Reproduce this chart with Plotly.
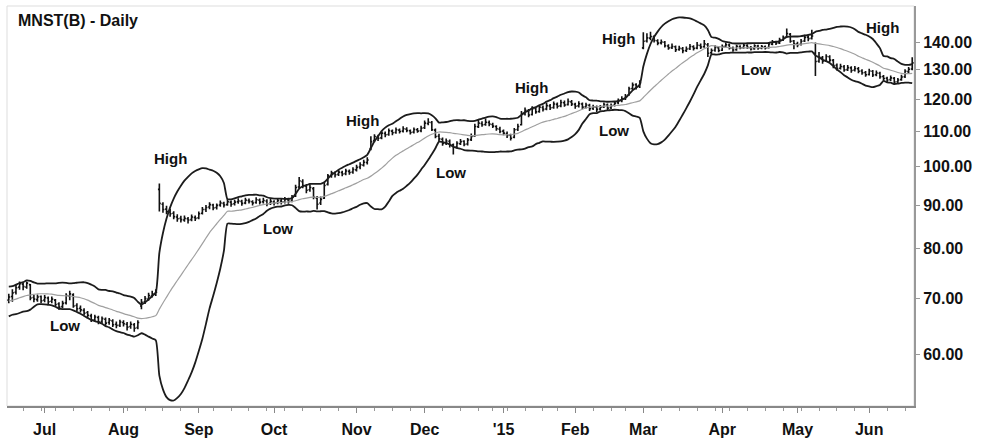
import numpy as np
import pandas as pd
import plotly.graph_objects as go

# ---------------- data ----------------
start_date = "2014-06-17"
end_date = "2015-06-17"
holidays = ["2014-07-04", "2014-09-01", "2014-11-27", "2014-12-25", "2015-01-01",
            "2015-01-19", "2015-02-16", "2015-04-03", "2015-05-25"]

month_labels = ["Jul", "Aug", "Sep", "Oct", "Nov", "Dec", "'15", "Feb", "Mar", "Apr", "May", "Jun"]

# closes before the first drawn bar (only used to seed the 20-day bands)
pre_close = [66.6, 67.2, 68.0, 67.4, 67.9, 68.8, 68.1, 67.3, 68.0, 69.4,
             70.3, 69.9, 70.7, 71.4, 70.6, 69.8, 71.0, 71.6, 70.4, 70.2]

open_ = [
    # Jun '14
    69.6, 70.3, 71.1, 72.1, 72.7, 72.1, 72.6, 70.1, 69.7, 70.3,
    # Jul
    69.6, 70.0, 69.4, 69.6, 68.9, 68.4, 69.1, 70.4, 70.6, 68.6, 68.1, 67.7, 67.3, 66.7, 66.0, 66.4, 65.7, 66.1, 65.5, 65.8, 65.2, 65.0,
    # Aug
    65.5, 65.2, 64.8, 65.1, 64.6, 68.5, 69.3, 69.8, 70.4, 70.9, 94.0, 90.3, 89.1, 88.4, 88.1, 87.2, 86.9, 86.5, 86.8, 86.6, 87.1,
    # Sep
    87.0, 88.1, 89.0, 89.6, 90.1, 89.5, 90.1, 90.5, 90.2, 90.8, 90.4, 90.9, 91.0, 90.6, 91.2, 90.9, 90.7, 91.3, 90.9, 91.1, 90.5,
    # Oct
    90.9, 90.7, 91.1, 90.9, 91.4, 91.1, 92.3, 94.6, 96.0, 94.9, 93.9, 94.2, 91.8, 90.6, 91.8, 95.3, 97.6, 98.2, 97.9, 98.4, 98.1, 98.7, 98.5,
    # Nov
    99.1, 99.9, 100.4, 101.1, 105.0, 107.3, 108.4, 108.1, 109.4, 109.1, 110.1, 109.7, 110.4, 110.1, 110.7, 110.2, 109.8, 110.5, 110.2,
    # Dec
    111.1, 112.4, 112.7, 110.4, 108.6, 107.7, 106.6, 107.1, 106.1, 105.5, 106.4, 107.1, 106.3, 107.6, 108.7, 111.4, 112.4, 112.1, 112.7, 112.1, 111.5, 110.7,
    # Jan '15
    110.1, 109.4, 108.9, 108.3, 110.6, 112.0, 115.4, 116.4, 115.2, 117.1, 116.1, 117.4, 116.9, 117.9, 117.4, 118.4, 117.9, 118.9, 118.3, 119.2,
    # Feb
    118.4, 117.9, 118.5, 117.6, 118.1, 117.1, 117.5, 116.9, 117.6, 118.2, 117.3, 118.1, 118.9, 119.6, 120.3, 121.5, 123.6, 124.9, 124.3,
    # Mar
    138.0, 140.6, 141.7, 142.2, 140.7, 139.9, 140.1, 138.7, 138.1, 138.4, 137.4, 137.7, 137.0, 137.7, 138.4, 137.9, 138.9, 138.4, 139.2, 136.2, 137.1, 138.1,
    # Apr
    137.1, 138.6, 139.1, 137.9, 137.3, 138.5, 138.1, 138.9, 138.1, 137.7, 138.7, 138.0, 138.4, 138.1, 139.4, 140.1, 139.9, 141.1, 142.1, 143.2, 140.6,
    # May
    139.4, 139.3, 140.6, 142.1, 141.6, 136.0, 133.1, 134.4, 133.3, 134.7, 133.4, 131.6, 130.6, 131.1, 130.1, 130.7, 129.9, 130.4, 129.6, 129.1,
    # Jun
    128.4, 129.5, 128.3, 128.8, 127.7, 127.1, 126.6, 127.1, 125.9, 126.6, 127.6, 129.4, 130.3,
]

high = [
    70.8, 71.7, 72.6, 73.2, 73.0, 73.2, 72.7, 70.6, 70.7, 70.5,
    70.6, 70.3, 70.3, 69.8, 69.2, 69.5, 70.9, 71.4, 70.9, 69.0, 68.6, 68.1, 67.6, 67.1, 66.9, 66.7, 66.6, 66.4, 66.3, 66.1, 65.7, 66.0,
    65.9, 65.6, 65.7, 65.4, 65.9, 69.8, 70.4, 71.0, 71.4, 71.7, 95.5, 90.8, 89.9, 89.2, 88.6, 87.9, 87.5, 87.6, 87.2, 87.8, 87.6,
    88.5, 89.6, 90.1, 90.8, 90.4, 90.5, 91.2, 90.9, 91.5, 91.2, 91.4, 91.8, 91.4, 91.9, 91.7, 91.3, 92.0, 91.7, 91.9, 91.5, 91.6,
    91.3, 91.8, 91.6, 92.1, 91.9, 92.6, 95.2, 97.2, 96.6, 95.4, 95.3, 94.6, 92.3, 92.2, 95.8, 98.0, 98.9, 98.7, 99.1, 98.9, 99.4, 99.2, 99.8,
    100.5, 101.2, 101.9, 102.6, 108.6, 109.2, 109.0, 110.2, 110.0, 110.9, 110.6, 111.2, 110.9, 111.6, 111.3, 110.6, 111.2, 111.0, 111.7,
    113.3, 114.0, 113.2, 110.9, 109.3, 108.2, 107.9, 107.6, 106.5, 107.1, 107.8, 107.4, 108.1, 109.4, 112.3, 113.6, 113.1, 113.9, 113.3, 112.6, 111.9, 111.4,
    110.6, 110.0, 109.3, 111.0, 112.3, 116.3, 117.4, 116.9, 117.8, 117.5, 118.3, 118.0, 118.9, 118.5, 119.3, 119.0, 119.9, 119.6, 120.3, 119.8,
    118.9, 119.4, 119.0, 118.9, 118.6, 118.3, 118.0, 118.2, 119.0, 118.7, 118.7, 119.5, 120.3, 121.0, 121.8, 124.2, 125.6, 125.4, 126.4,
    144.0, 143.6, 144.2, 142.8, 141.3, 141.2, 140.6, 139.4, 139.6, 138.9, 138.8, 138.3, 138.5, 139.5, 139.0, 140.2, 139.6, 141.0, 139.8, 137.8, 139.0, 138.6,
    139.3, 140.0, 139.6, 138.5, 139.2, 139.0, 139.8, 139.4, 138.7, 139.4, 139.2, 139.1, 138.9, 140.2, 141.0, 140.7, 141.8, 142.7, 145.4, 143.7, 141.0,
    140.3, 141.4, 143.0, 142.8, 145.0, 140.0, 136.5, 135.0, 135.6, 135.3, 133.9, 132.3, 132.2, 131.7, 131.7, 131.3, 131.4, 131.0, 130.2, 129.6,
    130.4, 130.0, 129.8, 129.3, 128.2, 127.6, 128.0, 127.5, 127.2, 128.3, 130.2, 131.0, 134.5,
]

low = [
    69.0, 69.3, 70.7, 71.6, 71.5, 71.8, 69.6, 69.2, 69.3, 69.0,
    69.2, 68.9, 69.0, 68.4, 67.8, 68.1, 68.8, 69.6, 68.2, 67.5, 67.3, 66.8, 66.3, 65.6, 65.7, 65.2, 65.3, 65.0, 65.1, 64.7, 64.5, 64.7,
    64.8, 64.1, 64.4, 63.9, 64.3, 67.9, 68.9, 69.5, 70.1, 70.4, 88.5, 88.2, 87.9, 87.3, 86.7, 86.1, 85.9, 86.1, 85.7, 86.2, 86.3,
    86.7, 87.8, 88.4, 89.1, 88.8, 89.0, 89.7, 89.5, 89.9, 89.7, 90.0, 90.4, 89.9, 90.3, 90.5, 90.0, 90.4, 90.2, 90.5, 89.8, 90.1,
    90.0, 90.3, 90.2, 90.5, 90.4, 90.8, 92.1, 94.2, 94.3, 93.0, 93.4, 91.5, 89.0, 90.1, 91.6, 95.0, 97.0, 97.1, 97.5, 97.4, 97.7, 97.8, 98.1,
    98.7, 99.3, 100.0, 100.6, 104.5, 106.8, 107.2, 107.7, 108.3, 108.7, 108.9, 109.3, 109.4, 109.7, 109.8, 109.1, 109.4, 109.6, 109.8,
    110.7, 111.9, 110.1, 108.0, 107.2, 105.8, 106.0, 105.3, 103.3, 105.0, 106.0, 105.7, 105.9, 107.2, 108.4, 111.0, 111.4, 111.7, 111.6, 111.0, 110.2, 109.5,
    108.9, 108.1, 107.3, 108.0, 110.1, 111.8, 114.9, 114.3, 114.9, 115.4, 115.7, 116.1, 116.5, 116.6, 117.0, 117.1, 117.5, 117.6, 118.0, 117.9,
    117.0, 117.4, 116.8, 117.1, 116.3, 116.6, 116.0, 116.4, 117.2, 116.6, 116.9, 117.7, 118.4, 119.1, 119.8, 121.2, 123.1, 123.3, 123.8,
    137.5, 140.0, 140.9, 140.0, 139.0, 139.3, 138.1, 137.3, 137.6, 136.5, 136.9, 136.0, 136.5, 137.2, 137.0, 137.5, 137.6, 138.0, 134.6, 135.5, 136.6, 136.4,
    136.8, 138.1, 137.4, 136.6, 136.9, 137.5, 137.7, 137.6, 137.0, 137.3, 137.3, 137.5, 137.4, 137.8, 139.0, 139.1, 139.5, 140.6, 141.8, 139.9, 137.5,
    138.2, 138.9, 140.2, 140.5, 141.2, 127.9, 132.5, 132.2, 132.8, 132.7, 130.6, 129.8, 130.1, 129.3, 129.6, 129.0, 129.4, 128.8, 128.3, 127.6,
    128.0, 127.5, 127.8, 126.9, 126.2, 125.7, 126.1, 124.9, 125.3, 126.2, 127.2, 128.8, 129.9,
]

close = [
    70.2, 71.0, 72.0, 72.8, 72.2, 72.9, 70.0, 69.8, 70.2, 69.5,
    70.1, 69.3, 69.8, 68.8, 68.3, 69.0, 70.5, 70.8, 68.5, 68.0, 67.8, 67.2, 66.8, 66.0, 66.5, 65.6, 66.2, 65.4, 65.9, 65.1, 65.0, 65.6,
    65.3, 64.7, 65.2, 64.5, 65.5, 69.2, 69.9, 70.5, 70.8, 71.1, 90.5, 89.0, 88.5, 88.0, 87.3, 86.8, 86.6, 86.9, 86.5, 87.2, 86.9,
    88.0, 89.0, 89.5, 90.2, 89.4, 90.0, 90.6, 90.1, 90.9, 90.3, 90.8, 91.1, 90.5, 91.3, 91.0, 90.6, 91.4, 90.8, 91.2, 90.4, 91.0,
    90.6, 91.2, 90.8, 91.5, 91.0, 92.0, 94.5, 96.2, 95.0, 93.8, 94.5, 92.0, 90.3, 91.5, 95.0, 97.5, 98.3, 97.8, 98.5, 98.0, 98.8, 98.4, 99.2,
    99.8, 100.5, 101.2, 101.8, 107.0, 108.5, 108.0, 109.5, 109.0, 110.2, 109.6, 110.5, 110.0, 110.8, 110.3, 109.7, 110.6, 110.1, 111.0,
    112.5, 112.8, 110.5, 108.5, 107.8, 106.5, 107.2, 106.0, 105.4, 106.5, 107.0, 106.2, 107.5, 108.5, 111.5, 112.5, 112.0, 112.8, 112.2, 111.6, 110.8, 110.0,
    109.5, 108.8, 108.0, 110.5, 111.5, 115.5, 116.5, 115.0, 117.0, 116.0, 117.5, 116.8, 118.0, 117.3, 118.5, 117.8, 119.0, 118.2, 119.3, 118.5,
    117.8, 118.6, 117.5, 118.2, 117.0, 117.6, 116.8, 117.5, 118.3, 117.2, 118.0, 118.8, 119.5, 120.2, 121.0, 123.5, 124.8, 124.2, 125.5,
    140.5, 141.8, 142.3, 140.8, 139.8, 140.2, 138.8, 138.0, 138.5, 137.3, 137.8, 136.9, 137.6, 138.5, 137.8, 139.0, 138.3, 139.5, 136.0, 137.0, 138.2, 137.0,
    138.5, 139.2, 138.0, 137.2, 138.6, 138.0, 139.0, 138.2, 137.6, 138.8, 137.9, 138.5, 138.0, 139.5, 140.2, 139.8, 141.0, 142.0, 143.5, 140.5, 139.5,
    139.2, 140.5, 142.0, 141.5, 142.5, 133.0, 134.5, 133.2, 134.8, 133.5, 131.5, 130.5, 131.2, 130.0, 130.8, 129.8, 130.5, 129.5, 129.0, 128.3,
    129.6, 128.2, 128.9, 127.6, 127.0, 126.5, 127.2, 125.8, 126.5, 127.5, 129.5, 130.2, 132.5,
]

# "High" / "Low" callouts: text, trading-day index, price level
callout_text = ["Low", "High", "Low", "High", "Low", "High", "Low", "High", "Low", "High"]
callout_idx = [15.7, 45.0, 75.1, 98.8, 123.3, 145.7, 168.8, 170.2, 208.4, 243.6]
callout_price = [65.0, 102.3, 84.6, 113.2, 98.3, 123.9, 110.2, 141.6, 130.1, 145.8]

y_ticks = [60, 70, 80, 90, 100, 110, 120, 130, 140]

# ---------------- derived ----------------
dates = pd.bdate_range(start_date, end_date)
dates = dates[~dates.isin(pd.to_datetime(holidays))]
n = len(close)
assert len(dates) == n == len(open_) == len(high) == len(low), (len(dates), n, len(open_), len(high), len(low))
idx = np.arange(n)

allc = pd.Series(pre_close + close, dtype=float)
mid = allc.rolling(20).mean()
sd = allc.rolling(20).std(ddof=0)
upper = (mid + 2 * sd).iloc[len(pre_close):].to_numpy()
lower = (mid - 2 * sd).iloc[len(pre_close):].to_numpy()
middle = mid.iloc[len(pre_close):].to_numpy()

months = pd.Series(dates.to_period("M"))
month_start = [i for i in range(1, n) if months[i] != months[i - 1]]
week_start = [i for i in range(1, n) if dates[i].weekday() < dates[i - 1].weekday()]

FONT = "Liberation Sans, Arial, sans-serif"

fig = go.Figure()
fig.add_trace(go.Scatter(x=idx, y=middle, mode="lines",
                         line=dict(color="#a0a0a0", width=1.2, shape="spline", smoothing=0.6),
                         hoverinfo="skip"))
for band in (upper, lower):
    fig.add_trace(go.Scatter(x=idx, y=band, mode="lines",
                             line=dict(color="#1c1c1c", width=1.8, shape="spline", smoothing=0.6),
                             hoverinfo="skip"))
fig.add_trace(go.Ohlc(x=idx, open=open_, high=high, low=low, close=close,
                      text=[d.strftime("%Y-%m-%d") for d in dates],
                      increasing=dict(line=dict(color="#111111", width=1.6)),
                      decreasing=dict(line=dict(color="#111111", width=1.6)),
                      tickwidth=0.4))

for t, xi, p in zip(callout_text, callout_idx, callout_price):
    fig.add_annotation(x=xi, y=np.log10(p), xref="x", yref="y", text=t, showarrow=False,
                       font=dict(family=FONT, size=15, color="#111111", weight="bold"))

fig.add_annotation(xref="paper", yref="paper", x=0.0099, y=0.963, xanchor="left", yanchor="middle",
                   text="MNST(B) - Daily", showarrow=False,
                   font=dict(family=FONT, size=16, color="#111111", weight="bold"))

fig.add_shape(type="rect", xref="paper", yref="paper", x0=0, x1=1, y0=0, y1=1,
              line=dict(color="#dddddd", width=1), layer="below")

fig.update_layout(
    width=982, height=444,
    margin=dict(l=7, r=68, t=6, b=31),
    paper_bgcolor="white", plot_bgcolor="white",
    showlegend=False,
    xaxis=dict(range=[-0.5, n - 0.5], rangeslider=dict(visible=False),
               showgrid=False, zeroline=False,
               tickmode="array", tickvals=month_start, ticktext=month_labels,
               ticks="outside", ticklen=5, tickwidth=1, tickcolor="#888888",
               ticklabelstandoff=3,
               showline=True, linecolor="#888888", linewidth=1.5,
               minor=dict(tickmode="array", tickvals=week_start, ticks="outside",
                          ticklen=3, tickcolor="#999999", tickwidth=1),
               tickfont=dict(family=FONT, size=16, color="#111111", weight="bold")),
    yaxis=dict(type="log", side="right",
               range=[np.log10(52.23), np.log10(154.6)],
               showgrid=False, zeroline=False,
               tickmode="array", tickvals=y_ticks, ticktext=[f"{v:.2f}" for v in y_ticks],
               ticks="outside", ticklen=4, tickcolor="#999999",
               showline=True, linecolor="#999999", linewidth=2,
               tickfont=dict(family=FONT, size=16, color="#111111", weight="bold")),
)

fig.write_html("out.html", config={"displayModeBar": False},
               post_script="document.body.style.margin='0';")
